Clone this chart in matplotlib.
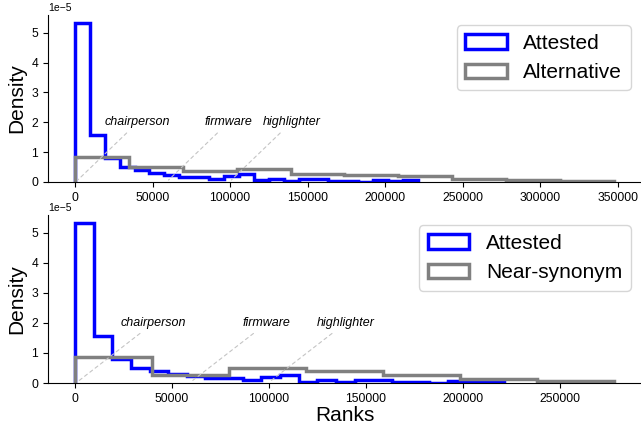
import numpy as np
import matplotlib.pyplot as plt

plt.rcParams['font.family'] = ['Liberation Sans', 'DejaVu Sans']

# attested ranks histogram (same in both panels), density in units of 1e-5
attested_edges = np.linspace(0, 221000, 24)
attested_dens = np.array([5.33, 1.58, 0.80, 0.50, 0.39, 0.31, 0.23, 0.18, 0.18, 0.09,
                          0.20, 0.26, 0.05, 0.10, 0.02, 0.10, 0.10, 0.02, 0.02, 0.01,
                          0.07, 0.02, 0.07]) * 1e-5

# alternative ranks (top)
alt_edges = np.linspace(0, 347500, 11)
alt_dens = np.array([0.85, 0.50, 0.37, 0.44, 0.28, 0.25, 0.19, 0.09, 0.05, 0.035]) * 1e-5

# near-synonym ranks (bottom)
syn_edges = np.linspace(0, 277900, 8)
syn_dens = np.array([0.88, 0.28, 0.50, 0.41, 0.28, 0.12, 0.06]) * 1e-5

words = ['chairperson', 'firmware', 'highlighter']
word_ranks = [500, 59000, 99500]

fig = plt.figure(figsize=(6.41, 4.29), dpi=100)
ax1 = fig.add_axes([0.0749, 0.5758, 0.925, 0.3893])
ax2 = fig.add_axes([0.0749, 0.1072, 0.925, 0.3916])

panels = [(ax1, alt_edges, alt_dens, 'Alternative'),
          (ax2, syn_edges, syn_dens, 'Near-synonym')]

for ax, edges, dens, name in panels:
    ax.hist(attested_edges[:-1], bins=attested_edges, weights=attested_dens,
            histtype='step', color='blue', lw=2.5, label='Attested')
    ax.hist(edges[:-1], bins=edges, weights=dens,
            histtype='step', color='gray', lw=2.5, label=name)
    # dashed pointers from example words down to their rank
    for w, r in zip(words, word_ranks):
        ax.annotate(w, xy=(r, 0), xytext=(r + 40000, 2e-5),
                    ha='center', va='center', fontsize=9, style='italic',
                    arrowprops=dict(arrowstyle='-', linestyle=(0, (3, 3)),
                                    color='#c4c4c4', lw=0.8))
    ax.spines['top'].set_visible(False)
    ax.spines['right'].set_visible(False)
    ax.tick_params(labelsize=8.7)
    ax.yaxis.get_offset_text().set_fontsize(7.5)
    ax.set_ylabel('Density', fontsize=15)
    ax.legend(fontsize=15, loc='upper right')

ax2.set_xlabel('Ranks', fontsize=15, labelpad=1)

plt.savefig('out.png', dpi=100)
